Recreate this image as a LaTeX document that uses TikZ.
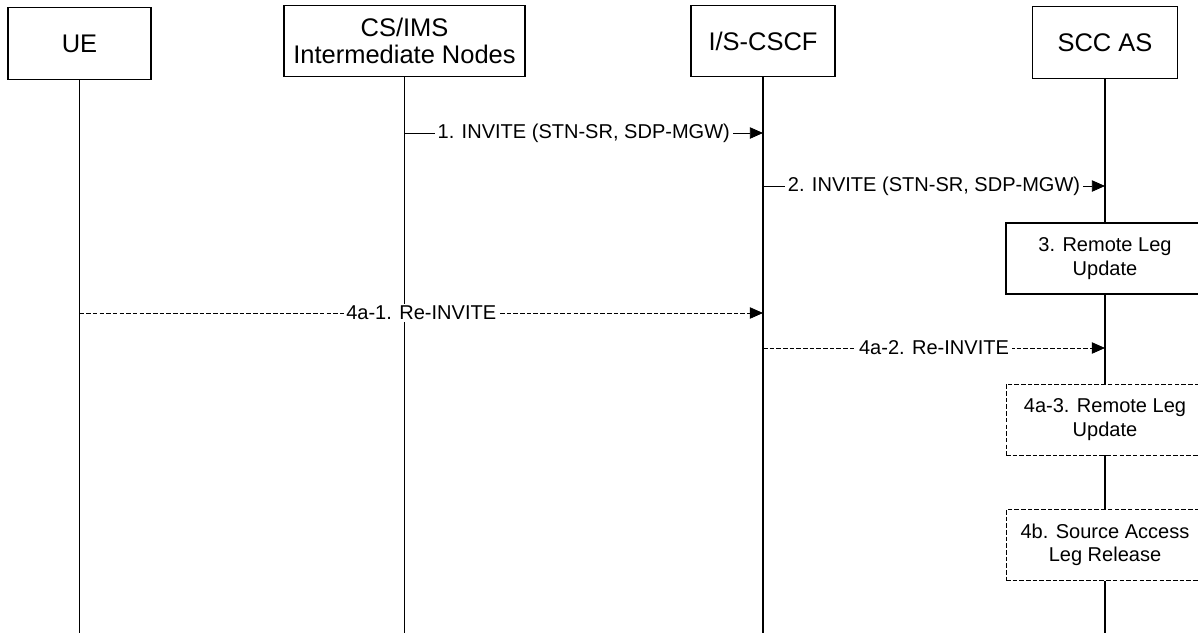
\documentclass[tikz,border=0pt]{standalone}
\usepackage{fontspec}
\setmainfont{Liberation Sans}
\usetikzlibrary{arrows.meta}

\tikzset{
 entity/.style={draw, line width=0.6pt, fill=white, minimum width=#1,
   minimum height=1.43cm, align=center, inner sep=0pt,
   font=\fontsize{14.5}{15.4}\selectfont},
 action/.style={draw, line width=0.6pt, fill=white, minimum width=3.96cm,
   minimum height=1.42cm, align=center, inner sep=0pt,
   font=\fontsize{11.4}{13.4}\selectfont},
 life/.style={line width=0.9pt},
 msg/.style={line width=0.5pt, -{Triangle[length=7.5pt,width=6.5pt]}},
 lbl/.style={fill=white, inner xsep=1.5pt, inner ysep=1pt,
   font=\fontsize{11.4}{13.4}\selectfont},
 later/.style={line width=0.45pt, dash pattern=on 2.6pt off 1.2pt}
}

\begin{document}
\begin{tikzpicture}[x=0.02cm,y=-0.02cm]
\useasboundingbox (0,0) rectangle (1198,633);

% entities
\node[entity=2.86cm] (ue)   at (79.5,43.5) {UE};
\node[entity=4.82cm] (ims)  at (404.5,41)  {CS/IMS\\Intermediate Nodes};
\node[entity=2.88cm] (cscf) at (763,41)    {I/S-CSCF};
\node[entity=2.9cm]  (scc)  at (1105,42.5) {SCC AS};

% lifelines
\foreach \n in {ue,ims,cscf,scc}
 \draw[life] (\n.south) -- (\n.south |- 0,633);

% messages
\coordinate (m1a) at (ims.south |- 0,133);
\coordinate (m1b) at (cscf.south |- 0,133);
\coordinate (m2a) at (cscf.south |- 0,186);
\coordinate (m2b) at (scc.south |- 0,186);
\coordinate (m4a) at (ue.south |- 0,313);
\coordinate (m4b) at (cscf.south |- 0,313);
\coordinate (m5a) at (cscf.south |- 0,348);
\coordinate (m5b) at (scc.south |- 0,348);

\draw[msg] (m1a) -- node[lbl] {1. INVITE (STN-SR, SDP-MGW)} (m1b);
\draw[msg] (m2a) -- node[lbl] {2. INVITE (STN-SR, SDP-MGW)} (m2b);
\draw[msg,later] (m4a) -- node[lbl] {4a-1. Re-INVITE} (m4b);
\draw[msg,later] (m5a) -- node[lbl] {4a-2. Re-INVITE} (m5b);

% actions at the SCC AS
\node[action] (upd)  at (scc.south |- 0,258.5) {3. Remote Leg\\Update};
\node[action,later] (upd4) at (scc.south |- 0,419.5) {4a-3. Remote Leg\\Update};
\node[action,later] (rel)  at (scc.south |- 0,545) {4b. Source Access\\Leg Release};

\end{tikzpicture}
\end{document}
